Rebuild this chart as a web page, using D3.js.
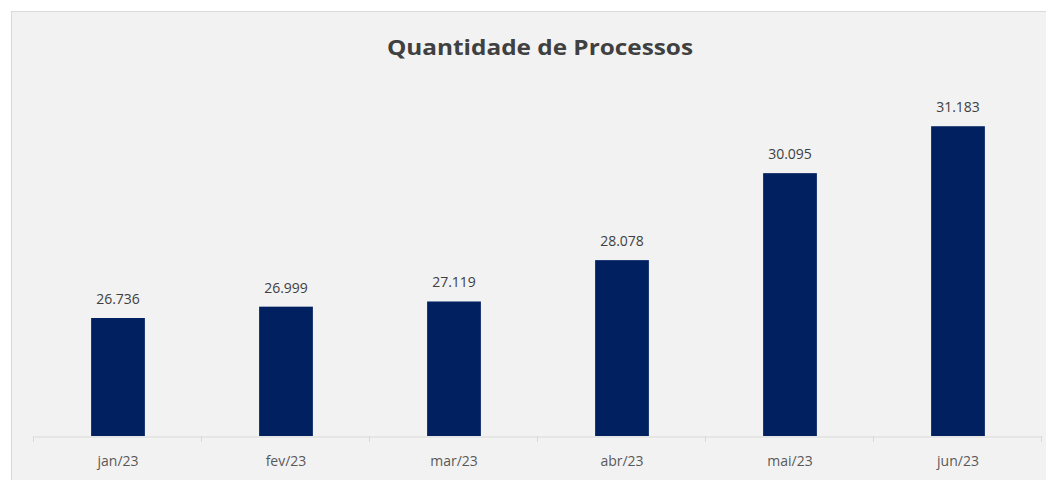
<!DOCTYPE html>
<html lang="en">
<head>
<meta charset="utf-8">
<script src="https://cdn.jsdelivr.net/npm/d3@7"></script>
<style>
    body { margin: 0; background: #ffffff; }
    .axis text { font-family: "Open Sans", sans-serif; font-size: 14px; fill: #595959; }
</style>
</head>
<body>
<script>
const months = ["jan/23", "fev/23", "mar/23", "abr/23", "mai/23", "jun/23"];
const processos = [26736, 26999, 27119, 28078, 30095, 31183];
const chartTitle = "Quantidade de Processos";

const w = 1046, h = 480;
const svg = d3.select("body").append("svg")
    .attr("width", w)
    .attr("height", h);

// chart area frame
svg.append("rect")
    .attr("x", 11.5).attr("y", 11.5)
    .attr("width", w + 10).attr("height", h + 10)
    .attr("fill", "#f2f2f2")
    .attr("stroke", "#d9d9d9");

svg.append("text")
    .attr("x", 540).attr("y", 55)
    .attr("text-anchor", "middle")
    .attr("font-family", "Open Sans, sans-serif")
    .attr("font-weight", "bold")
    .attr("font-size", "22px")
    .attr("fill", "#404040")
    .attr("textLength", 306)
    .attr("lengthAdjust", "spacingAndGlyphs")
    .text(chartTitle);

const data = months.map((m, i) => ({ month: m, value: processos[i] }));

const xScale = d3.scaleBand()
    .domain(months)
    .range([34, 1042])
    .paddingInner(0.68)
    .paddingOuter(0.34);

const yScale = d3.scaleLinear()
    .domain([24000, 32000])
    .range([436, 91]);

svg.selectAll("rect.bar")
    .data(data)
    .enter()
    .append("rect")
    .attr("class", "bar")
    .attr("x", d => xScale(d.month))
    .attr("y", d => yScale(d.value))
    .attr("width", xScale.bandwidth())
    .attr("height", d => yScale(24000) - yScale(d.value))
    .attr("fill", "#002060");

const fmt = d3.formatLocale({ decimal: ",", thousands: ".", grouping: [3], currency: ["R$", ""] }).format(",d");

svg.selectAll("text.label")
    .data(data)
    .enter()
    .append("text")
    .attr("class", "label")
    .attr("x", d => xScale(d.month) + xScale.bandwidth() / 2)
    .attr("y", d => yScale(d.value) - 14)
    .attr("text-anchor", "middle")
    .attr("font-family", "Open Sans, sans-serif")
    .attr("font-size", "14px")
    .attr("fill", "#404040")
    .text(d => fmt(d.value));

// x axis with ticks between categories
const xAxis = d3.axisBottom(xScale).tickSize(0).tickPadding(20);
const gx = svg.append("g")
    .attr("class", "axis")
    .attr("transform", "translate(0," + 436.5 + ")")
    .call(xAxis);
gx.select(".domain").attr("stroke", "#d9d9d9");

const step = xScale.step();
svg.selectAll("line.sep")
    .data(d3.range(months.length + 1))
    .enter()
    .append("line")
    .attr("class", "sep")
    .attr("x1", i => 33.5 + i * step)
    .attr("x2", i => 33.5 + i * step)
    .attr("y1", 436)
    .attr("y2", 442)
    .attr("stroke", "#d9d9d9");
</script>
</body>
</html>
